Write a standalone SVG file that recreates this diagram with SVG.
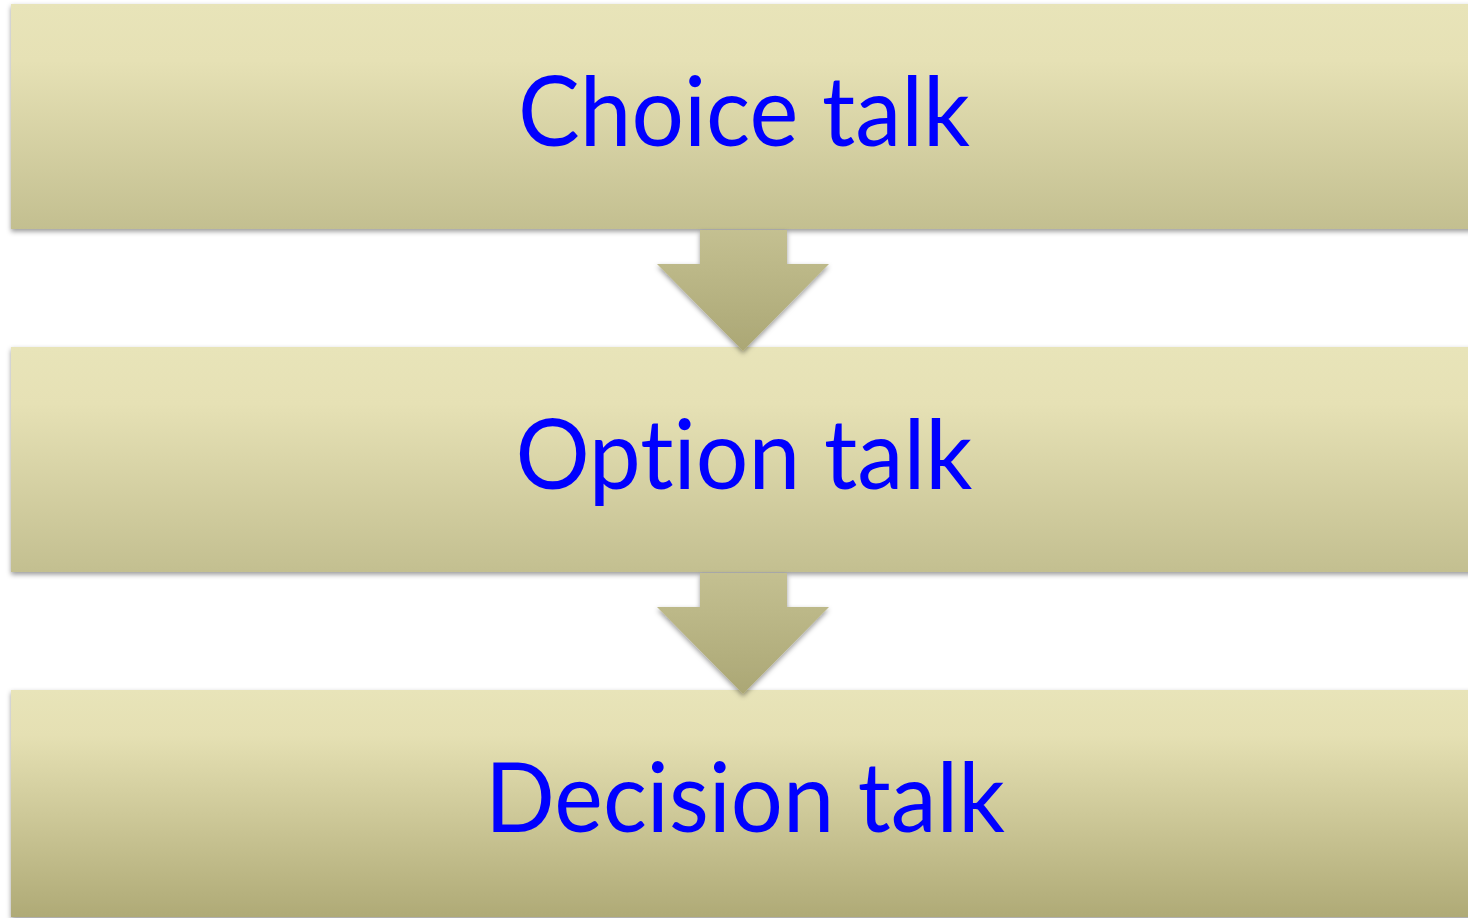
<svg xmlns="http://www.w3.org/2000/svg" width="1468" height="918" viewBox="0 0 1468 918">
  <defs>
    <linearGradient id="gBar" x1="0" y1="0" x2="0" y2="1">
      <stop offset="0" stop-color="#E8E4B9"/>
      <stop offset="0.25" stop-color="#E6E1B5"/>
      <stop offset="1" stop-color="#C3BF90"/>
    </linearGradient>
    <linearGradient id="gBar3" x1="0" y1="0" x2="0" y2="1">
      <stop offset="0" stop-color="#E8E4B9"/>
      <stop offset="0.2" stop-color="#E5E0B3"/>
      <stop offset="1" stop-color="#AFAA76"/>
    </linearGradient>
    <linearGradient id="gArrow" x1="0" y1="0" x2="0" y2="1">
      <stop offset="0" stop-color="#C4C091"/>
      <stop offset="1" stop-color="#ABA775"/>
    </linearGradient>
    <filter id="shadow" x="-5%" y="-10%" width="110%" height="125%">
      <feDropShadow dx="0" dy="2.5" stdDeviation="2.5" flood-color="#000" flood-opacity="0.4"/>
    </filter>
    <style>
      .bar { fill: url(#gBar); filter: url(#shadow); }
      .bar3 { fill: url(#gBar3); filter: url(#shadow); }
      .arrow { fill: url(#gArrow); filter: url(#shadow); }
      .label { font-family: Lato, "Open Sans", "Liberation Sans", sans-serif; font-size: 96px; fill: #0000FF; text-anchor: middle; font-variant-ligatures: none; font-feature-settings: "liga" 0, "clig" 0; }
    </style>
  </defs>
  <rect width="1468" height="918" fill="#FFFFFF"/>
  <g id="nodes">
    <g id="node-choice">
      <rect class="bar" x="11" y="4" width="1470" height="225"/>
      <text class="label" x="744" y="146" textLength="452" lengthAdjust="spacingAndGlyphs">Choice talk</text>
    </g>
    <g id="node-option">
      <rect class="bar" x="11" y="347" width="1470" height="225"/>
      <text class="label" x="744" y="489" textLength="457" lengthAdjust="spacingAndGlyphs">Option talk</text>
    </g>
    <g id="node-decision">
      <rect class="bar3" x="11" y="690" width="1470" height="227"/>
      <text class="label" x="745" y="832" textLength="520" lengthAdjust="spacingAndGlyphs">Decision talk</text>
    </g>
  </g>
  <g id="connectors">
    <path class="arrow" d="M700,230 L787,230 L787,264 L829,264 L743,351 L657,264 L700,264 Z"/>
    <path class="arrow" d="M700,573 L787,573 L787,607 L829,607 L743,694 L657,607 L700,607 Z"/>
  </g>
</svg>
